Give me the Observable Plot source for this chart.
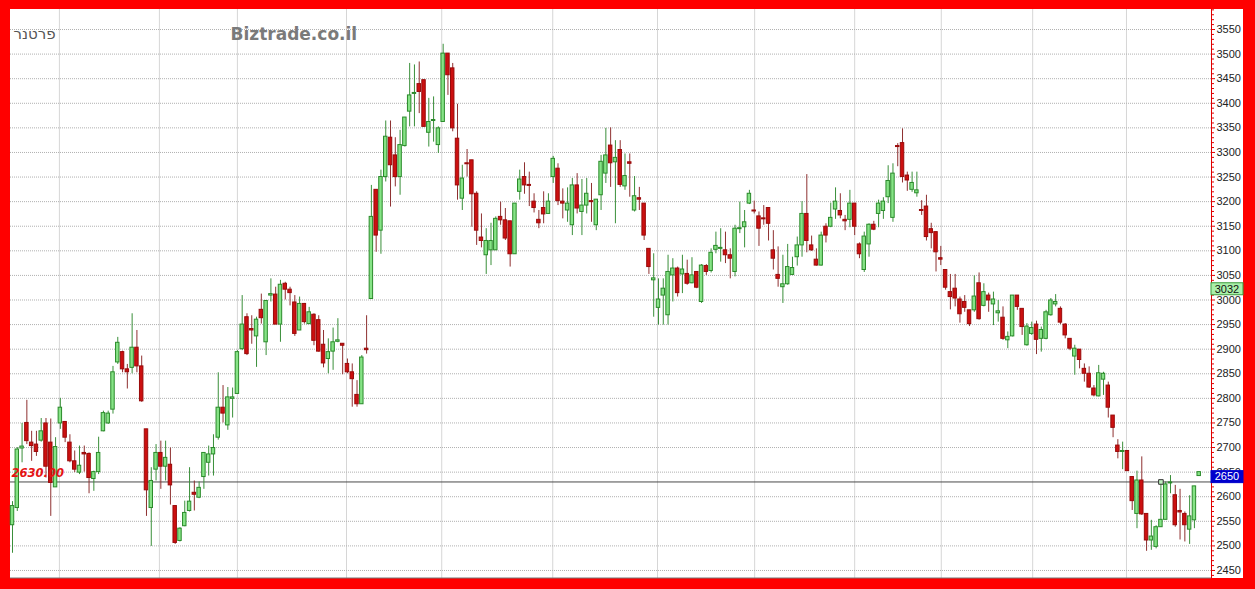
<!DOCTYPE html>
<html>
<head>
<meta charset="utf-8">
<script src="https://cdn.jsdelivr.net/npm/d3@7"></script>
<script src="https://cdn.jsdelivr.net/npm/@observablehq/plot@0.6"></script>
<style>
html,body{margin:0;padding:0;background:#ff0000;width:1255px;height:589px;overflow:hidden;}
#wrap{position:absolute;left:10px;top:9px;width:1233px;height:569px;background:#fff;}
</style>
</head>
<body>
<div id="wrap"></div>
<script>
const opens = [2542,2577,2698,2750,2710,2706,2714,2749,2710,2619,
2749,2752,2710,2672,2649,2689,2687,2636,2650,2733,
2749,2777,2873,2894,2859,2862,2903,2865,2737,2577,
2655,2689,2661,2665,2581,2510,2540,2571,2608,2598,
2640,2669,2686,2720,2781,2745,2799,2809,2900,2965,
2941,2926,2980,2914,3009,3011,2950,3033,3021,2995,
2938,2992,2951,2970,2959,2909,2880,2895,2915,2911,
2870,2853,2807,2788,2901,3002,3224,3141,3250,3330,
3294,3250,3313,3383,3419,3439,3447,3340,3364,3315,
3362,3501,3471,3328,3206,3278,3284,3216,3127,3091,
3101,3101,3169,3162,3160,3093,3220,3250,3234,3200,
3163,3187,3175,3250,3267,3200,3182,3152,3233,3179,
3192,3201,3152,3213,3257,3314,3280,3305,3231,3280,
3182,3207,3196,3104,3040,2984,3009,2969,3050,3064,
3052,3053,3034,3057,2996,3069,3059,3102,3104,3101,
3091,3057,3144,3148,3196,3182,3170,3166,3187,3101,
3051,3026,3032,3051,3087,3111,3175,3111,3082,3070,
3149,3149,3184,3181,3163,3163,3196,3113,3061,3113,
3153,3175,3181,3209,3167,3313,3319,3253,3224,3217,
3183,3190,3144,3138,3085,3061,3016,3023,3001,2996,
2979,2979,3034,2988,3009,2991,2973,2964,2918,2926,
3009,2982,2908,2931,2950,2921,2921,2969,2991,2982,
2950,2921,2885,2899,2860,2850,2820,2804,2838,2826,
2765,2704,2691,2693,2640,2565,2633,2565,2511,2498,
2538,2553,2627,2603,2571,2565,2533,2552,2642];

const highs = [2590,2700,2749,2796,2733,2733,2759,2759,2758,2720,
2800,2753,2726,2693,2703,2703,2689,2652,2721,2774,
2774,2865,2924,2896,2869,2972,2938,2886,2737,2659,
2706,2713,2713,2699,2581,2537,2591,2659,2632,2630,
2689,2703,2726,2852,2826,2822,2821,2897,3009,2972,
2968,2965,3012,2999,3043,3026,3040,3036,3026,3009,
3006,2993,2985,2972,2968,2938,2921,2943,2962,2911,
2880,2870,2836,2887,2968,3233,3224,3264,3364,3364,
3330,3345,3371,3481,3478,3484,3447,3410,3413,3352,
3520,3501,3481,3398,3274,3306,3284,3220,3175,3145,
3156,3169,3199,3186,3160,3196,3264,3279,3260,3216,
3182,3220,3216,3292,3277,3226,3228,3247,3257,3245,
3247,3237,3204,3294,3349,3350,3324,3324,3297,3297,
3251,3229,3196,3104,3094,3043,3043,3091,3084,3067,
3091,3081,3086,3057,3072,3072,3104,3138,3145,3138,
3104,3152,3199,3182,3223,3201,3179,3192,3187,3141,
3108,3091,3113,3087,3128,3200,3255,3130,3104,3138,
3155,3197,3228,3216,3172,3223,3196,3116,3138,3155,
3160,3203,3208,3273,3277,3318,3348,3260,3260,3260,
3202,3213,3156,3138,3109,3061,3052,3052,3006,3009,
2979,3049,3055,3033,3014,3016,2999,2986,2935,3009,
3009,2982,2952,2955,2957,2945,2979,3003,3011,2986,
2952,2921,2908,2899,2870,2864,2826,2867,2853,2833,
2765,2716,2711,2694,2640,2652,2681,2565,2552,2541,
2628,2630,2643,2623,2615,2569,2602,2621,2650];

const lows = [2485,2570,2669,2706,2672,2682,2711,2638,2560,2619,
2737,2710,2669,2649,2645,2650,2606,2611,2645,2732,
2747,2768,2869,2852,2819,2850,2852,2792,2560,2499,
2632,2615,2632,2583,2503,2508,2539,2569,2571,2596,
2615,2642,2642,2715,2750,2735,2760,2808,2897,2887,
2910,2863,2951,2887,2996,2950,2914,3000,2988,2926,
2938,2951,2950,2907,2894,2862,2850,2857,2913,2848,
2850,2782,2782,2788,2890,3002,3097,3093,3240,3189,
3230,3213,3311,3352,3352,3379,3352,3311,3321,3298,
3362,3416,3342,3203,3182,3250,3148,3111,3106,3052,
3070,3101,3152,3121,3067,3093,3203,3215,3190,3177,
3145,3155,3174,3237,3192,3165,3158,3131,3175,3131,
3175,3158,3141,3182,3237,3229,3155,3229,3223,3209,
3179,3182,3121,3052,2965,2949,2949,2949,2996,3006,
3013,3030,3033,3023,2993,3050,3055,3094,3077,3074,
3043,3047,3135,3106,3194,3175,3109,3152,3120,3061,
3026,2993,3030,3050,3069,3087,3096,3099,3069,3069,
3116,3147,3164,3165,3141,3147,3131,3084,3056,3087,
3141,3147,3164,3196,3158,3271,3238,3221,3219,3209,
3172,3120,3104,3057,3070,3020,2980,2986,2953,2975,
2946,2975,2959,2986,2975,2948,2955,2918,2901,2925,
2979,2928,2906,2928,2889,2894,2919,2967,2986,2950,
2921,2897,2847,2860,2833,2820,2803,2803,2806,2760,
2720,2677,2655,2652,2572,2535,2562,2489,2491,2494,
2538,2553,2606,2538,2512,2508,2503,2535,2642];

const closes = [2581,2696,2702,2713,2703,2691,2733,2661,2628,2701,
2781,2720,2672,2655,2663,2686,2638,2650,2689,2770,
2769,2853,2913,2859,2853,2903,2865,2794,2613,2632,
2689,2661,2679,2623,2506,2535,2567,2590,2604,2618,
2689,2686,2699,2781,2769,2802,2802,2894,2950,2890,
2938,2960,2963,2998,3012,2950,3031,3021,3014,2931,
2992,2955,2975,2917,2895,2871,2894,2914,2918,2907,
2853,2839,2788,2883,2898,3169,3131,3250,3332,3274,
3250,3315,3371,3416,3421,3423,3352,3362,3366,3349,
3501,3457,3349,3233,3247,3276,3215,3141,3120,3120,
3120,3165,3162,3125,3093,3196,3245,3233,3232,3187,
3156,3174,3200,3287,3201,3196,3196,3233,3186,3192,
3216,3199,3204,3281,3294,3278,3289,3234,3252,3277,
3211,3204,3131,3067,3044,3001,3023,3057,3064,3014,
3062,3033,3050,3025,3070,3057,3096,3110,3106,3091,
3084,3145,3146,3158,3216,3180,3145,3164,3155,3084,
3043,3032,3067,3065,3111,3175,3120,3101,3070,3131,
3131,3167,3200,3172,3160,3196,3149,3093,3129,3153,
3143,3196,3200,3242,3257,3311,3250,3243,3238,3223,
3181,3128,3136,3097,3082,3025,3006,3003,2971,2984,
2951,3007,2961,3016,2999,3001,2977,2921,2925,3009,
2986,2945,2946,2943,2919,2939,2975,2999,2996,2954,
2928,2901,2901,2878,2850,2822,2806,2851,2850,2781,
2740,2691,2693,2652,2591,2633,2564,2511,2519,2538,
2553,2625,2629,2542,2568,2542,2560,2621,2650];

// month separators (candle index positions)
const monthTicks = [9.8, 30.7, 47.0, 69.8, 89.7, 112.9, 134.8, 155.1, 176.0, 194.1, 213.2, 232.8];
const yTicks = d3.range(2450, 3551, 50);
const yMinor = d3.range(2440, 3591, 10).filter(v => v % 50 !== 0);
const refLevel = 2630;
const refMarkerIndex = 240;
const lastLevel = 2650;
const otherLevel = 3032;
const titleText = "פרטנר";
const brandText = "Biztrade.co.il";

const data = opens.map((o, i) => ({
  i, open: o, high: highs[i], low: lows[i], close: closes[i], up: closes[i] >= o
}));

const GREEN_FILL = "#86e386", GREEN_LINE = "#2a8a2a", GREEN_WICK = "#3a8f3a";
const RED_FILL = "#cc1010", RED_LINE = "#990a0a", RED_WICK = "#8e3030";

const bodyTop = d => { const hi = Math.max(d.open, d.close), lo = Math.min(d.open, d.close); return hi - lo < 2 ? (hi + lo) / 2 + 1 : hi; };
const bodyBot = d => { const hi = Math.max(d.open, d.close), lo = Math.min(d.open, d.close); return hi - lo < 2 ? (hi + lo) / 2 - 1 : lo; };

const xDomain = [-0.418, 250.57];
const yDomain = [2433.7, 3590.7];

const plot = Plot.plot({
  width: 1233,
  height: 569,
  marginLeft: 0,
  marginRight: 32,
  marginTop: 0,
  marginBottom: 0,
  style: {background: "#fff", fontFamily: "'Liberation Sans', Arial, sans-serif", fontSize: "11px", overflow: "visible"},
  x: {type: "linear", domain: xDomain, axis: null},
  y: {domain: yDomain, axis: null},
  marks: [
    Plot.ruleX(monthTicks, {stroke: "#d6d6d6"}),
    Plot.ruleY(yTicks, {stroke: "#b0b0b0", strokeDasharray: "1,1"}),
    Plot.ruleY([yDomain[0]], {stroke: "#777", dy: -0.5}),
    Plot.ruleY([refLevel], {stroke: "#4a4a4a"}),
    Plot.ruleX(data, {x: "i", y1: "low", y2: "high", stroke: d => d.up ? GREEN_WICK : RED_WICK}),
    Plot.rect(data, {
      x1: d => d.i - 0.36, x2: d => d.i + 0.36,
      y1: bodyBot, y2: bodyTop,
      fill: d => d.up ? GREEN_FILL : RED_FILL,
      stroke: d => d.up ? GREEN_LINE : RED_LINE,
      strokeWidth: 1
    }),
    Plot.dot([{i: refMarkerIndex, v: refLevel}], {x: "i", y: "v", symbol: "square", r: 2.6, fill: "#bff0bf", stroke: "#333", strokeWidth: 1}),
    Plot.text([refLevel], {
      y: d => d, frameAnchor: "left", textAnchor: "start", dx: 1, dy: -9,
      text: d => d.toFixed(2), fill: "#e41414", fontStyle: "italic", fontWeight: "bold", fontSize: 11.5,
      fontFamily: "'DejaVu Sans', sans-serif"
    }),
    Plot.text([titleText], {
      frameAnchor: "top-left", dx: 3, dy: 25, lineAnchor: "middle", textAnchor: "start",
      fontSize: 15, fill: "#555", fontFamily: "'DejaVu Sans', sans-serif"
    }),
    Plot.text([brandText], {
      frameAnchor: "top-left", dx: 220, dy: 25, lineAnchor: "middle", textAnchor: "start",
      fontSize: 17, fontWeight: "bold", fill: "#7a7a7a", fontFamily: "'DejaVu Sans', sans-serif"
    }),
    Plot.ruleX([xDomain[1]], {stroke: "#e00000"}),
    Plot.axisY(yMinor, {anchor: "right", tickSize: 2, tickFormat: () => "", stroke: "#e00000"}),
    Plot.axisY(yTicks, {anchor: "right", tickSize: 3, tickPadding: 2, tickFormat: d => String(d), stroke: "#e00000", fill: "#222", fontSize: 11})
  ]
});

document.getElementById("wrap").appendChild(plot);

// boxed value labels in the right axis panel, positioned through the plot's y scale
const ys = plot.scale("y");
const svg = d3.select(plot);
const boxes = [
  {v: otherLevel, fill: "#aaf0aa", stroke: "#3a9a3a", color: "#111"},
  {v: lastLevel, fill: "#0000cc", stroke: "#0000cc", color: "#fff"}
];
for (const b of boxes) {
  const py = ys.apply(b.v);
  const g = svg.append("g");
  g.append("rect").attr("x", 1201).attr("y", py - 1).attr("width", 32).attr("height", 12)
    .attr("fill", b.fill).attr("stroke", b.stroke).attr("stroke-width", 1);
  g.append("text").attr("x", 1217).attr("y", py + 5).attr("dy", "0.35em")
    .attr("text-anchor", "middle").attr("fill", b.color)
    .attr("font-family", "'Liberation Sans', Arial, sans-serif").attr("font-size", 11)
    .text(String(b.v));
}
</script>
</body>
</html>
